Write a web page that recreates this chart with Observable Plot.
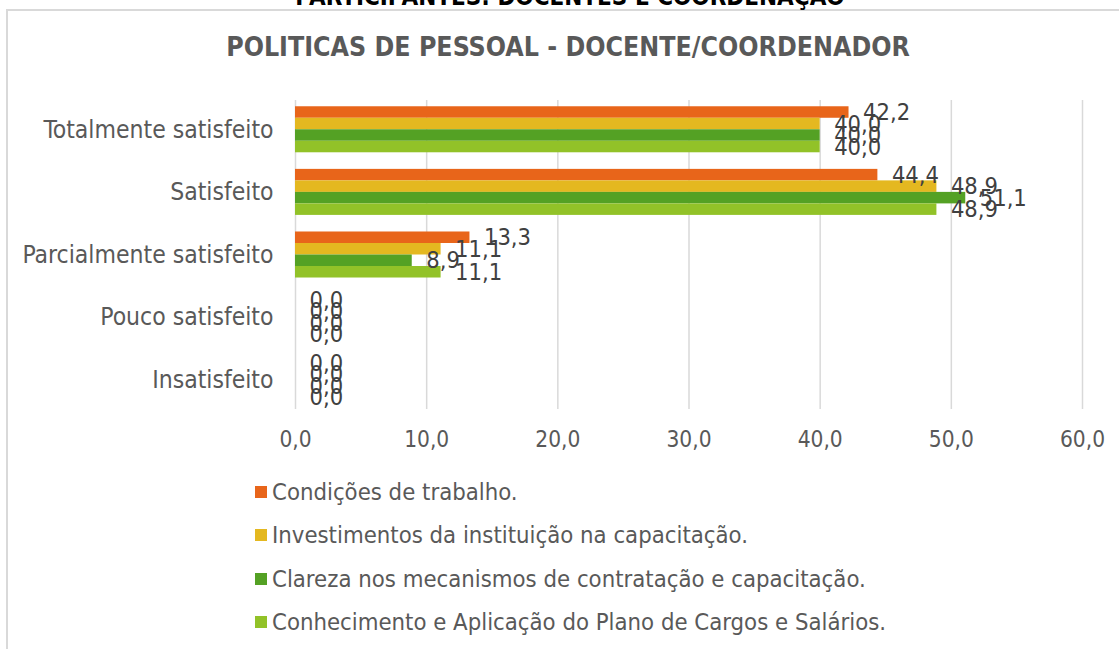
<!DOCTYPE html>
<html>
<head>
<meta charset="utf-8">
<script src="https://cdn.jsdelivr.net/npm/d3@7"></script>
<script src="https://cdn.jsdelivr.net/npm/@observablehq/plot@0.6"></script>
<style>
  html, body { margin: 0; padding: 0; background: #fff; }
  #wrap { position: relative; width: 1119px; height: 649px; overflow: hidden; background: #fff;
          font-family: "DejaVu Sans Condensed", "DejaVu Sans", sans-serif; font-stretch: condensed; }
  #frame { position: absolute; left: 6px; top: 9px; width: 1200px; height: 700px;
           border-left: 2px solid #d9d9d9; border-top: 2px solid #d9d9d9; box-sizing: border-box; }
  #toptitle { position: absolute; left: 0; width: 1140px; top: -15px; text-align: center;
              font-weight: bold; font-size: 24px; line-height: 24px; color: #000; }
  #title { position: absolute; left: 0; width: 1136px; top: 32px; text-align: center;
           font-weight: bold; font-size: 26.5px; line-height: 30px; color: #595959; }
  #chart { position: absolute; left: 0; top: 0; }
  #chart svg { overflow: visible; }
  #chart [aria-label^="y-axis"] text { font-size: 24.5px; }
  #chart [aria-label^="x-axis"] text { font-size: 22.5px; }
  #legend { position: absolute; left: 255px; top: 470px; }
  .item { position: absolute; left: 0; white-space: nowrap; font-size: 23.7px; color: #595959;
          display: flex; align-items: center; height: 44px; }
  .sw { width: 12px; height: 12px; margin-right: 5px; flex: none; }
</style>
</head>
<body>
<div id="wrap">
  <div id="frame"></div>
  <div id="toptitle">PARTICIPANTES: DOCENTES E COORDENAÇÃO</div>
  <div id="title">POLITICAS DE PESSOAL - DOCENTE/COORDENADOR</div>
  <div id="chart"></div>
  <div id="legend"></div>
</div>
<script>
const categories = ["Totalmente satisfeito", "Satisfeito", "Parcialmente satisfeito", "Pouco satisfeito", "Insatisfeito"];
const seriesNames = [
  "Condições de trabalho.",
  "Investimentos da instituição na capacitação.",
  "Clareza nos mecanismos de contratação e capacitação.",
  "Conhecimento e Aplicação do Plano de Cargos e Salários."
];
const condicoes    = [42.2, 44.4, 13.3, 0.0, 0.0];
const investimentos = [40.0, 48.9, 11.1, 0.0, 0.0];
const clareza      = [40.0, 51.1, 8.9, 0.0, 0.0];
const conhecimento = [40.0, 48.9, 11.1, 0.0, 0.0];
const xTicks = [0, 10, 20, 30, 40, 50, 60];
const seriesColors = ["#E8651A", "#E4B820", "#54A124", "#92C228"];

const seriesValues = [condicoes, investimentos, clareza, conhecimento];
const fmt = d => d.toFixed(1).replace(".", ",");

const W = 1119, H = 470, mTop = 100, mBottom = 61, mLeft = 295, mRight = 37;
const padIn = 0.265, padOut = 0.1;
const band = d3.scaleBand().domain(categories).range([mTop, H - mBottom]).paddingInner(padIn).paddingOuter(padOut);
const B = band.bandwidth();
const n = seriesNames.length;
const slot = B / n;

const rows = seriesNames.map((s, i) => categories.map((c, j) => ({category: c, series: s, value: seriesValues[i][j]})));

const marks = [Plot.ruleX(xTicks, {stroke: "#d9d9d9", strokeWidth: 1.5})];
rows.forEach((data, i) => {
  marks.push(Plot.barX(data, {
    x: "value", y: "category", fill: seriesColors[i],
    insetTop: i * slot, insetBottom: (n - 1 - i) * slot
  }));
});
rows.forEach((data, i) => {
  marks.push(Plot.text(data, {
    x: "value", y: "category", text: d => fmt(d.value),
    dx: 14, dy: -B / 2 + (i + 0.5) * slot, textAnchor: "start",
    fill: "#404040", fontSize: 23.5
  }));
});

const chart = Plot.plot({
  width: W, height: H,
  marginTop: mTop, marginBottom: mBottom, marginLeft: mLeft, marginRight: mRight,
  style: {fontFamily: "'DejaVu Sans Condensed', 'DejaVu Sans', sans-serif", fontSize: "22px", color: "#595959", background: "transparent"},
  x: {domain: [0, 60], ticks: xTicks, tickFormat: fmt, tickSize: 0, tickPadding: 22, label: null},
  y: {domain: categories, paddingInner: padIn, paddingOuter: padOut, round: false, tickSize: 0, tickPadding: 22, label: null},
  marks
});
document.getElementById("chart").appendChild(chart);

const legend = document.getElementById("legend");
seriesNames.forEach((s, i) => {
  const div = document.createElement("div");
  div.className = "item";
  div.style.top = (i * 43.4) + "px";
  const sw = document.createElement("span");
  sw.className = "sw";
  sw.style.background = seriesColors[i];
  div.appendChild(sw);
  div.appendChild(document.createTextNode(s));
  legend.appendChild(div);
});
</script>
</body>
</html>
